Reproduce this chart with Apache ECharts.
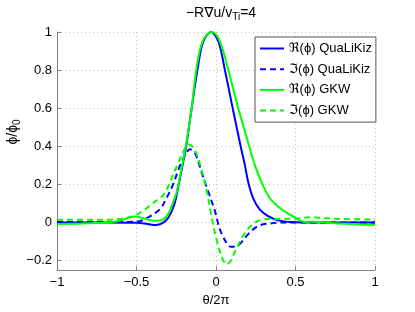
<!DOCTYPE html>
<html>
<head>
<meta charset="utf-8">
<script src="https://cdn.jsdelivr.net/npm/echarts@6/dist/echarts.min.js"></script>
<style>
html,body{margin:0;padding:0;background:#fff;}
#c{width:415px;height:312px;}
</style>
</head>
<body>
<div id="c"></div>
<script>
// Data: [theta/2pi, phi/phi0]
const reQuaLiKiz = [[-1,0],[-0.7,0],[-0.5,-0.002],[-0.43,-0.008],[-0.38,-0.013],[-0.34,-0.005],[-0.3,0.025],[-0.26,0.1],[-0.237,0.19],[-0.215,0.28],[-0.188,0.4],[-0.153,0.6],[-0.117,0.8],[-0.08,0.95],[-0.031,1.0],[0.015,0.95],[0.056,0.8],[0.105,0.6],[0.155,0.4],[0.182,0.3],[0.203,0.21],[0.234,0.127],[0.276,0.067],[0.328,0.033],[0.391,0.011],[0.475,0.002],[0.6,0],[1,0]];
const imQuaLiKiz = [[-1,0.002],[-0.7,0.002],[-0.55,0.003],[-0.48,0.007],[-0.45,0.016],[-0.4,0.04],[-0.35,0.072],[-0.31,0.13],[-0.27,0.2],[-0.235,0.28],[-0.2,0.345],[-0.163,0.385],[-0.13,0.36],[-0.09,0.262],[-0.048,0.16],[-0.006,0.058],[0.015,-0.01],[0.036,-0.06],[0.077,-0.12],[0.098,-0.128],[0.12,-0.125],[0.151,-0.112],[0.203,-0.061],[0.266,-0.018],[0.34,-0.005],[0.45,0],[1,0]];
const reGKW = [[-1,-0.008],[-0.8,-0.004],[-0.65,0.002],[-0.58,0.015],[-0.54,0.03],[-0.5,0.03],[-0.456,0.022],[-0.41,0.012],[-0.37,0.009],[-0.33,0.018],[-0.3,0.045],[-0.28,0.084],[-0.247,0.16],[-0.226,0.245],[-0.2,0.356],[-0.184,0.43],[-0.153,0.6],[-0.124,0.8],[-0.085,0.95],[-0.025,1.0],[0.025,0.95],[0.077,0.8],[0.14,0.6],[0.209,0.4],[0.245,0.3],[0.287,0.211],[0.339,0.127],[0.402,0.076],[0.465,0.041],[0.527,0.011],[0.56,0.003],[0.6,0.004],[0.65,0.002],[0.75,-0.004],[0.9,-0.01],[1,-0.013]];
const imGKW = [[-1,0.014],[-0.8,0.014],[-0.65,0.016],[-0.57,0.022],[-0.52,0.032],[-0.47,0.055],[-0.414,0.09],[-0.37,0.118],[-0.33,0.145],[-0.3,0.19],[-0.28,0.23],[-0.237,0.313],[-0.205,0.373],[-0.17,0.41],[-0.14,0.39],[-0.107,0.322],[-0.058,0.165],[-0.027,0.024],[0.004,-0.091],[0.036,-0.18],[0.067,-0.22],[0.09,-0.205],[0.109,-0.17],[0.151,-0.1],[0.2,-0.035],[0.255,0.004],[0.31,0.017],[0.4,0.019],[0.5,0.02],[0.59,0.028],[0.65,0.025],[0.8,0.018],[1,0.016]];
const seriesNames = ['ℜ(ϕ) QuaLiKiz','ℑ(ϕ) QuaLiKiz','ℜ(ϕ) GKW','ℑ(ϕ) GKW'];
const yTicks = [-0.2,0,0.2,0.4,0.6,0.8,1];
const xTicks = [-1,-0.5,0,0.5,1];

const FONT = '"Liberation Sans", Arial, "DejaVu Sans", sans-serif';
const fmt = v => (v < 0 ? '\u2212' + String(-v) : String(v));
const chart = echarts.init(document.getElementById('c'), null, {renderer:'canvas'});
const gridLine = {show:true, lineStyle:{color:'#c4c4c4', type:[1,3], width:1}};
function mk(name, data, color, dashed){
  return {name, type:'line', data, showSymbol:false, symbol:'none', smooth:0.35,
    lineStyle:{color, width:2, type: dashed ? [6,4] : 'solid'}, itemStyle:{color}, z:2, animation:false};
}
chart.setOption({
  animation:false,
  backgroundColor:'#fff',
  grid:{left:57, right:40, top:32, bottom:35, containLabel:false},
  title:{
    text:'{n|\u2212R\u2207u/v}{s|Ti}{n|=4}',
    left:216, top:1, textAlign:'center',
    textStyle:{fontFamily:FONT, fontWeight:'normal', rich:{
      n:{fontFamily:FONT, fontSize:14, color:'#000', lineHeight:16, verticalAlign:'top'},
      s:{fontFamily:FONT, fontSize:10, color:'#000', lineHeight:10, padding:[8,0,0,0], verticalAlign:'bottom'}
    }}
  },
  legend:{
    orient:'vertical', left:255, top:37,
    padding:[5,4,5,4], itemGap:7.7, itemWidth:24, itemHeight:14,
    backgroundColor:'#fff', borderColor:'#555', borderWidth:1, borderRadius:0,
    itemStyle:{opacity:0},
    textStyle:{fontFamily:FONT, fontSize:13, color:'#000'},
    data: seriesNames
  },
  xAxis:{type:'value', min:-1, max:1, interval:0.5,
    name:'θ/2π', nameLocation:'middle', nameGap:17,
    nameTextStyle:{fontFamily:FONT, fontSize:13, color:'#000'},
    axisLine:{show:true, onZero:false, lineStyle:{color:'#808080', width:1}},
    axisTick:{show:true, inside:true, length:4, lineStyle:{color:'#808080'}},
    axisLabel:{fontFamily:FONT, fontSize:13, color:'#000', margin:6, formatter:fmt, customValues:xTicks},
    splitLine:gridLine},
  yAxis:{type:'value', min:-0.25, max:1,
    axisLine:{show:true, onZero:false, lineStyle:{color:'#808080', width:1}},
    axisTick:{show:true, inside:true, length:4, lineStyle:{color:'#808080'}, customValues:yTicks},
    axisLabel:{fontFamily:FONT, fontSize:13, color:'#000', margin:5, formatter:fmt, customValues:yTicks},
    splitLine:gridLine},
  graphic:[{
    type:'text', x:14, y:132, rotation:Math.PI/2,
    style:{text:'{n|ϕ/ϕ}{s|0}', align:'center', verticalAlign:'middle', fill:'#000',
      rich:{ n:{fontFamily:FONT, fontSize:14, lineHeight:16, verticalAlign:'top'},
             s:{fontFamily:FONT, fontSize:10, lineHeight:10, padding:[8,0,0,0], verticalAlign:'bottom'} }}
  }],
  series:[
    mk(seriesNames[0], reQuaLiKiz, '#0000ff', false),
    mk(seriesNames[1], imQuaLiKiz, '#0000ff', true),
    mk(seriesNames[2], reGKW, '#00ff00', false),
    mk(seriesNames[3], imGKW, '#00ff00', true)
  ]
});
</script>
</body>
</html>
